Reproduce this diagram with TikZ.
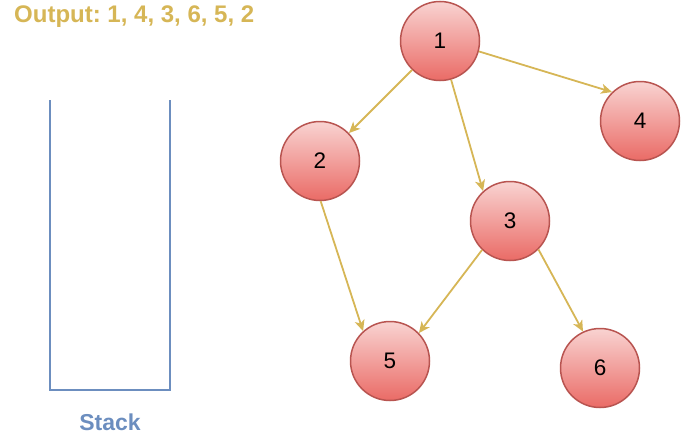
\documentclass[tikz,border=0pt]{standalone}
\usepackage{fontspec}
\setmainfont{Liberation Sans}
\usetikzlibrary{positioning}
\usetikzlibrary{arrows.meta}
\definecolor{vfill}{HTML}{F8CECC}
\definecolor{vfilldark}{HTML}{EA6B66}
\definecolor{vline}{HTML}{B85450}
\definecolor{edgecol}{HTML}{D6B656}
\definecolor{stackcol}{HTML}{6C8EBF}
\frenchspacing

\begin{document}
\begin{tikzpicture}[x=1pt, y=-1pt,
    vertex/.style={circle, draw=vline, line width=1.5pt, top color=vfill!90!white, bottom color=vfilldark,
        minimum size=79pt, inner sep=0pt, font=\fontsize{22.5}{26}\selectfont},
    edge/.style={-{Stealth[length=11pt, width=10pt, inset=3pt]}, draw=edgecol, line width=1.8pt}]
    \useasboundingbox (0,0) rectangle (682,439);

    % Output and stack
    \node[anchor=west, text=edgecol, font=\fontsize{24}{28}\selectfont\bfseries, inner sep=0pt] (out) at (14,17) {Output: 1, 4, 3, 6, 5, 2};
    \coordinate (stl) at (50,100);
    \coordinate (str) at (170,100);
    \draw[stackcol, line width=2pt] (stl) -- (50,390) -- (170,390) -- (str);
    \node[text=stackcol, font=\fontsize{23}{27}\selectfont\bfseries] (stack) at (110,422) {Stack};

    % Vertices
    \node[vertex] (n1) at (440,41) {1};
    \node[vertex] (n2) at (320,161) {2};
    \node[vertex] (n3) at (510,221) {3};
    \node[vertex] (n4) at (640,121) {4};
    \node[vertex] (n5) at (390,361) {5};
    \node[vertex] (n6) at (600,368) {6};

    % Edges
    \draw[edge] (n1.226) -- (n2.44);
    \draw[edge] (n1.-74) -- (n3.132);
    \draw[edge] (n1.-15) -- (n4.134);
    \draw[edge] (n2.-89) -- (n5.132);
    \draw[edge] (n3.226) -- (n5.44);
    \draw[edge] (n3.-45) -- (n6.115);
\end{tikzpicture}
\end{document}
